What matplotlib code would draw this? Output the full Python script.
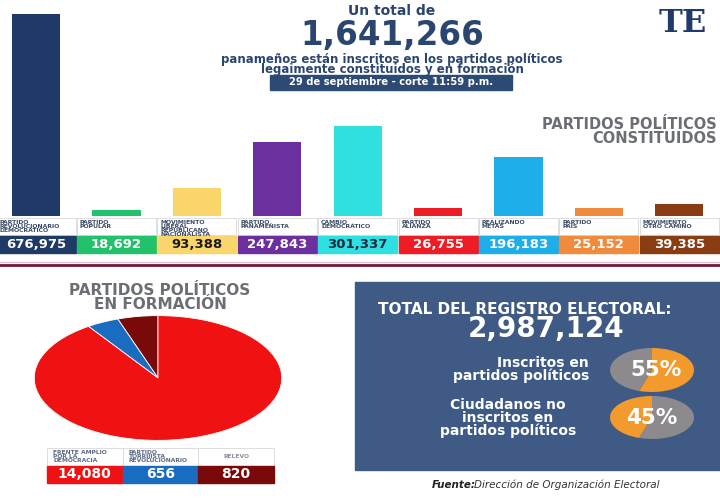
import matplotlib.pyplot as plt
from matplotlib.patches import Rectangle
import numpy as np

# partidos constituidos
parties = ['PARTIDO\nREVOLUCIONARIO\nDEMOCRÁTICO', 'PARTIDO\nPOPULAR',
           'MOVIMIENTO\nLIBERAL\nREPUBLICANO\nNACIONALISTA', 'PARTIDO\nPANAMEÑISTA',
           'CAMBIO\nDEMOCRÁTICO', 'PARTIDO\nALIANZA', 'REALIZANDO\nMETAS',
           'PARTIDO\nPAÍS', 'MOVIMIENTO\nOTRO CAMINO']
members = [676975, 18692, 93388, 247843, 301337, 26755, 196183, 25152, 39385]
party_colors = ['#1f3a66', '#22c16b', '#fad56b', '#6c2f9e', '#30dfe0',
                '#ee1c25', '#1eaeea', '#f08a3c', '#8a3c12']
value_text = ['white', 'white', '#1a1a1a', 'white', '#1a2a40',
              'white', 'white', 'white', 'white']

# partidos en formacion
forming = ['FRENTE AMPLIO\nPOR LA\nDEMOCRACIA', 'PARTIDO\nTORRIJISTA\nREVOLUCIONARIO', 'RELEVO']
forming_vals = [14080, 656, 820]
forming_colors = ['#f01212', '#1a6cc0', '#7a0a0a']

registro_total = 2987124

total = sum(members) + sum(forming_vals)
pct_in = round(100 * total / registro_total)
pct_out = 100 - pct_in

navy = '#2a4570'
gray = '#6b6e74'
panel = '#3e5a85'
orange = '#f39a2c'
pgray = '#8d8a8e'

fig = plt.figure(figsize=(7.2, 5), dpi=100)
fig.patch.set_facecolor('white')

# overlay in pixel coordinates
ax = fig.add_axes([0, 0, 1, 1])
ax.set_xlim(0, 720)
ax.set_ylim(500, 0)
ax.axis('off')

# header
ax.text(392, 15.3, 'Un total de', ha='center', va='baseline', fontsize=10,
        fontweight='bold', color=navy)
ax.text(392, 44.5, f'{total:,}', ha='center', va='baseline', fontsize=23.5,
        fontweight='bold', color=navy)
ax.text(392, 64.5, 'panameños están inscritos en los partidos políticos\n'
        'legaimente constituidos y en formación', ha='center', va='center',
        fontsize=8.5, fontweight='bold', color=navy, linespacing=0.8)
ax.add_patch(Rectangle((270, 75), 242, 14.5, color='#2d4a75'))
ax.text(391, 82.3, '29 de septiembre - corte 11:59 p.m.', ha='center', va='center',
        fontsize=7.2, fontweight='bold', color='white')
ax.text(659, 23, 'TE', ha='left', va='center', fontsize=23, fontweight='bold',
        family='DejaVu Serif', color='#1f3a6b')
ax.text(717, 131.5, 'PARTIDOS POLÍTICOS\nCONSTITUIDOS', ha='right', va='center',
        multialignment='right', fontsize=10.5, fontweight='bold', color=gray,
        linespacing=0.85)

# bars
axb = fig.add_axes([0, 1 - 216 / 500, 1, 202 / 500])
x = np.arange(len(members))
axb.bar(x, members, width=0.6, color=party_colors)
axb.set_xlim(-0.448, 8.507)
axb.set_ylim(0, max(members))
axb.axis('off')

# label boxes under the bars
for i, (name, v) in enumerate(zip(parties, members)):
    cx = 36 + 80.4 * i
    left = cx - 39.5
    ax.add_patch(Rectangle((left, 218), 79, 17, facecolor='white',
                           edgecolor='#d8d8d8', lw=0.6))
    ax.text(left + 3, 219.5, name, ha='left', va='top', fontsize=4.4,
            fontweight='bold', color='#3a4a66', linespacing=0.75)
    ax.add_patch(Rectangle((left, 236), 79, 16.5, color=party_colors[i]))
    ax.text(cx, 244.5, f'{v:,}', ha='center', va='center', fontsize=9.5,
            fontweight='bold', color=value_text[i])

# separator lines
ax.plot([0, 720], [262.3, 262.3], color='#f0b7c4', lw=0.8)
ax.plot([0, 720], [264.8, 264.8], color='#6a1a3a', lw=2)

# partidos en formacion
ax.text(160, 297.5, 'PARTIDOS POLÍTICOS\nEN FORMACIÓN', ha='center', va='center',
        fontsize=11, fontweight='bold', color=gray, linespacing=0.85)

axp = fig.add_axes([33 / 720, 1 - 441 / 500, 250 / 720, 126 / 500])
axp.pie(forming_vals[::-1], colors=forming_colors[::-1], startangle=90,
        counterclock=True, radius=1,
        wedgeprops=dict(edgecolor='white', linewidth=0.6))
axp.set_aspect('auto')
axp.set_xlim(-1.01, 1.01)
axp.set_ylim(-1.01, 1.01)
axp.axis('off')

for i, (name, v) in enumerate(zip(forming, forming_vals)):
    left = 47 + 75.7 * i
    ax.add_patch(Rectangle((left, 448), 75.5, 17.5, facecolor='white',
                           edgecolor='#d8d8d8', lw=0.6))
    if i == 2:
        ax.text(left + 37.7, 456.5, name, ha='center', va='center', fontsize=4.3,
                fontweight='bold', color='#8a8f99')
    else:
        ax.text(left + 6, 449.5, name, ha='left', va='top', fontsize=4.3,
                fontweight='bold', color='#5a6a86', linespacing=0.8)
    ax.add_patch(Rectangle((left, 466), 75.5, 16.5, color=forming_colors[i]))
    ax.text(left + 37.7, 474.5, f'{v:,}', ha='center', va='center', fontsize=10,
            fontweight='bold', color='white')

# registro electoral panel
ax.add_patch(Rectangle((355, 282), 380, 188, color=panel))
ax.text(378, 309, 'TOTAL DEL REGISTRO ELECTORAL:', ha='left', va='center',
        fontsize=11, fontweight='bold', color='white')
ax.text(546, 329, f'{registro_total:,}', ha='center', va='center', fontsize=20,
        fontweight='bold', color='white')
ax.text(589, 369.5, 'Inscritos en\npartidos políticos', ha='right', va='center',
        multialignment='right', fontsize=10, fontweight='bold', color='white',
        linespacing=0.95)
ax.text(508, 418, 'Ciudadanos no\ninscritos en\npartidos políticos', ha='center',
        va='center', fontsize=10, fontweight='bold', color='white', linespacing=0.88)

ax1 = fig.add_axes([610 / 720, 1 - 392 / 500, 84 / 720, 44 / 500])
ax1.pie([pct_in, pct_out], colors=[orange, pgray], startangle=90, counterclock=False)
ax1.set_aspect('auto')
ax1.set_xlim(-1, 1)
ax1.set_ylim(-1, 1)
ax1.axis('off')
ax1.text(0.1, 0, f'{pct_in}%', ha='center', va='center', fontsize=15.5,
         fontweight='bold', color='white')

ax2 = fig.add_axes([610 / 720, 1 - 439 / 500, 84 / 720, 43 / 500])
ax2.pie([pct_out, pct_in], colors=[orange, pgray], startangle=90, counterclock=True)
ax2.set_aspect('auto')
ax2.set_xlim(-1, 1)
ax2.set_ylim(-1, 1)
ax2.axis('off')
ax2.text(0.0, 0, f'{pct_out}%', ha='center', va='center', fontsize=15.5,
         fontweight='bold', color='white')

# fuente
ax.text(432, 485, 'Fuente:', ha='left', va='center', fontsize=7.5,
        fontweight='bold', style='italic', color='#222222')
ax.text(474, 485, 'Dirección de Organización Electoral', ha='left', va='center',
        fontsize=7.5, style='italic', color='#333333')

fig.savefig('out.png', dpi=100)
